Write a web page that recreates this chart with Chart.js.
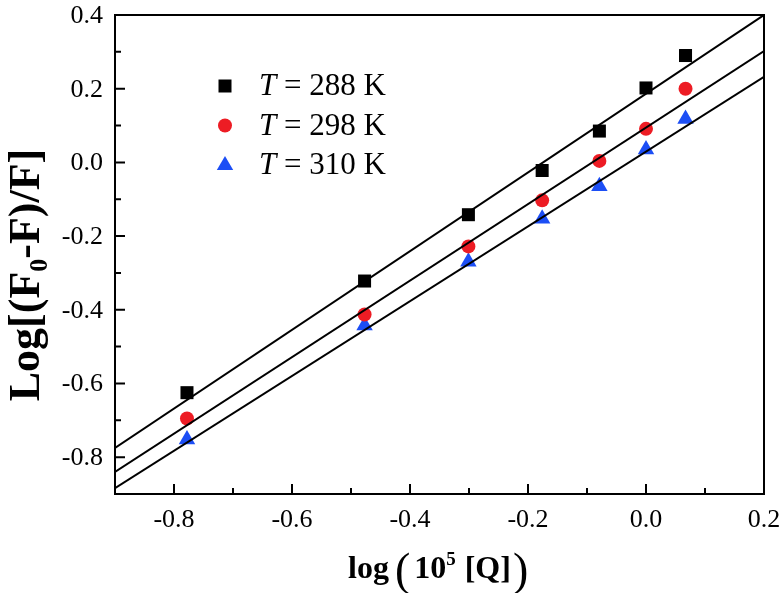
<!DOCTYPE html>
<html>
<head>
<meta charset="utf-8">
<script src="https://cdn.jsdelivr.net/npm/chart.js@4/dist/chart.umd.min.js"></script>
<style>
  html, body { margin: 0; padding: 0; background: #fff; }
  #wrap { width: 784px; height: 593px; }
</style>
</head>
<body>
<div id="wrap"><canvas id="quenchCanvas" width="784" height="593"></canvas></div>
<script>
// log(10^5 [Q]) values
var logQ = [-0.778, -0.477, -0.301, -0.176, -0.079, 0.0, 0.067];
// log[(F0-F)/F] per temperature
var y288 = [-0.625, -0.322, -0.142, -0.022, 0.085, 0.202, 0.290];
var y298 = [-0.695, -0.413, -0.228, -0.103, 0.004, 0.091, 0.200];
var y310 = [-0.752, -0.443, -0.270, -0.153, -0.065, 0.035, 0.118];
// fitted lines, read at both ends of the x range
var fitX = [-0.9, 0.2];
var fit288 = [-0.775, 0.400];
var fit298 = [-0.840, 0.302];
var fit310 = [-0.884, 0.232];
var seriesNames = ['288 K', '298 K', '310 K'];
var xTicks = [-0.8, -0.6, -0.4, -0.2, 0.0, 0.2];
var yTicks = [-0.8, -0.6, -0.4, -0.2, 0.0, 0.2, 0.4];
var xMinor = [-0.7, -0.5, -0.3, -0.1, 0.1];
var yMinor = [-0.7, -0.5, -0.3, -0.1, 0.1, 0.3];

var RED = 'rgb(237, 28, 36)';
var BLUE = 'rgb(28, 78, 245)';
var SERIF = "'Liberation Serif', 'Times New Roman', serif";
Chart.defaults.font.family = SERIF;

function pts(xs, ys) {
    var out = [];
    for (var i = 0; i < xs.length; i++) out.push({x: xs[i], y: ys[i]});
    return out;
}

function fmt(v) { return Number(v).toFixed(1); }

function drawMarker(ctx, style, x, y, color) {
    ctx.save();
    ctx.fillStyle = color;
    ctx.beginPath();
    if (style === 'rect') {
        ctx.rect(x - 6.5, y - 6.5, 13, 13);
    } else if (style === 'circle') {
        ctx.arc(x, y, 7, 0, Math.PI * 2);
    } else {
        ctx.moveTo(x, y - 9);
        ctx.lineTo(x + 8.2, y + 5);
        ctx.lineTo(x - 8.2, y + 5);
        ctx.closePath();
    }
    ctx.fill();
    ctx.restore();
}

// frame, inward ticks, tick labels, legend and axis titles
var decorations = {
    id: 'decorations',
    afterDraw: function (chart) {
        var ctx = chart.ctx;
        var a = chart.chartArea;
        var xs = chart.scales.x, ys = chart.scales.y;
        ctx.save();
        ctx.strokeStyle = '#000';
        ctx.lineWidth = 2;
        ctx.strokeRect(a.left, a.top, a.right - a.left, a.bottom - a.top);
        ctx.beginPath();
        xTicks.forEach(function (v) {
            var px = xs.getPixelForValue(v);
            ctx.moveTo(px, a.bottom); ctx.lineTo(px, a.bottom - 10);
        });
        xMinor.forEach(function (v) {
            var px = xs.getPixelForValue(v);
            ctx.moveTo(px, a.bottom); ctx.lineTo(px, a.bottom - 6);
        });
        yTicks.forEach(function (v) {
            var py = ys.getPixelForValue(v);
            ctx.moveTo(a.left, py); ctx.lineTo(a.left + 10, py);
        });
        yMinor.forEach(function (v) {
            var py = ys.getPixelForValue(v);
            ctx.moveTo(a.left, py); ctx.lineTo(a.left + 6, py);
        });
        ctx.stroke();

        // tick labels
        ctx.fillStyle = '#000';
        ctx.font = '26px ' + SERIF;
        ctx.textAlign = 'center';
        ctx.textBaseline = 'alphabetic';
        xTicks.forEach(function (v) {
            ctx.fillText(fmt(v), xs.getPixelForValue(v), a.bottom + 33);
        });
        ctx.textAlign = 'right';
        ctx.textBaseline = 'middle';
        yTicks.forEach(function (v) {
            ctx.fillText(fmt(v), a.left - 12, ys.getPixelForValue(v) + 1);
        });

        // legend
        var styles = ['rect', 'circle', 'triangle'];
        var colors = ['#000', RED, BLUE];
        for (var i = 0; i < 3; i++) {
            var ly = 86 + i * 39.5;
            drawMarker(ctx, styles[i], 225, ly, colors[i]);
            ctx.font = 'italic 31px ' + SERIF;
            ctx.textAlign = 'left';
            ctx.fillText('T', 259, ly + 1);
            var tw = ctx.measureText('T').width;
            ctx.font = '31px ' + SERIF;
            ctx.fillText(' = ' + seriesNames[i], 259 + tw, ly + 1);
        }

        // x title: log (10^5 [Q])
        ctx.textBaseline = 'alphabetic';
        ctx.textAlign = 'left';
        var bx = 348, by = 578;
        ctx.font = 'bold 32px ' + SERIF;
        ctx.fillText('log', bx, by); bx += ctx.measureText('log').width + 6;
        ctx.font = '46px ' + SERIF;
        ctx.fillText('(', bx, by + 7); bx += ctx.measureText('(').width + 4;
        ctx.font = 'bold 32px ' + SERIF;
        ctx.fillText('10', bx, by); bx += ctx.measureText('10').width;
        ctx.font = 'bold 19px ' + SERIF;
        ctx.fillText('5', bx, by - 13); bx += ctx.measureText('5').width + 9;
        ctx.font = 'bold 32px ' + SERIF;
        ctx.fillText('[Q]', bx, by); bx += ctx.measureText('[Q]').width + 2;
        ctx.font = '46px ' + SERIF;
        ctx.fillText(')', bx, by + 7);

        // y title: Log[(F0-F)/F]
        ctx.translate(39, 275);
        ctx.rotate(-Math.PI / 2);
        var parts = [['Log[(F', 44, 0], ['0', 26, 8], ['-F)/F]', 44, 0]];
        var total = 0;
        parts.forEach(function (p) {
            ctx.font = 'bold ' + p[1] + 'px ' + SERIF;
            total += ctx.measureText(p[0]).width;
        });
        var cx = -total / 2;
        parts.forEach(function (p) {
            ctx.font = 'bold ' + p[1] + 'px ' + SERIF;
            ctx.fillText(p[0], cx, p[2]);
            cx += ctx.measureText(p[0]).width;
        });
        ctx.restore();
    }
};

function fitLine(ys) {
    return {
        type: 'line', data: pts(fitX, ys), showLine: true,
        borderColor: '#000', borderWidth: 2, pointRadius: 0, fill: false, order: 0
    };
}

var ctx = document.getElementById('quenchCanvas').getContext('2d');
var chart = new Chart(ctx, {
    type: 'scatter',
    data: {
        datasets: [
            {label: seriesNames[0], data: pts(logQ, y288), pointStyle: 'rect', pointRadius: 9.2,
             backgroundColor: '#000', borderWidth: 0, order: 1},
            {label: seriesNames[1], data: pts(logQ, y298), pointStyle: 'circle', pointRadius: 7,
             backgroundColor: RED, borderWidth: 0, order: 1},
            {label: seriesNames[2], data: pts(logQ, y310), pointStyle: 'triangle', pointRadius: 9.5,
             backgroundColor: BLUE, borderWidth: 0, order: 1},
            fitLine(fit288),
            fitLine(fit298),
            fitLine(fit310)
        ]
    },
    options: {
        responsive: false,
        animation: false,
        layout: {padding: {left: 0, top: 15, right: 20, bottom: 0}},
        plugins: {legend: {display: false}, tooltip: {enabled: false}},
        scales: {
            x: {
                type: 'linear', min: -0.9, max: 0.2,
                grid: {display: false, drawTicks: false},
                border: {display: false},
                afterBuildTicks: function (s) { s.ticks = xTicks.map(function (v) { return {value: v}; }); },
                afterFit: function (s) { s.height = 99; s.paddingLeft = 0; s.paddingRight = 0; },
                ticks: {display: false}
            },
            y: {
                type: 'linear', min: -0.9, max: 0.4,
                grid: {display: false, drawTicks: false},
                border: {display: false},
                afterBuildTicks: function (s) { s.ticks = yTicks.map(function (v) { return {value: v}; }); },
                afterFit: function (s) { s.width = 115; s.paddingTop = 0; s.paddingBottom = 0; },
                ticks: {display: false}
            }
        }
    },
    plugins: [decorations]
});
</script>
</body>
</html>
